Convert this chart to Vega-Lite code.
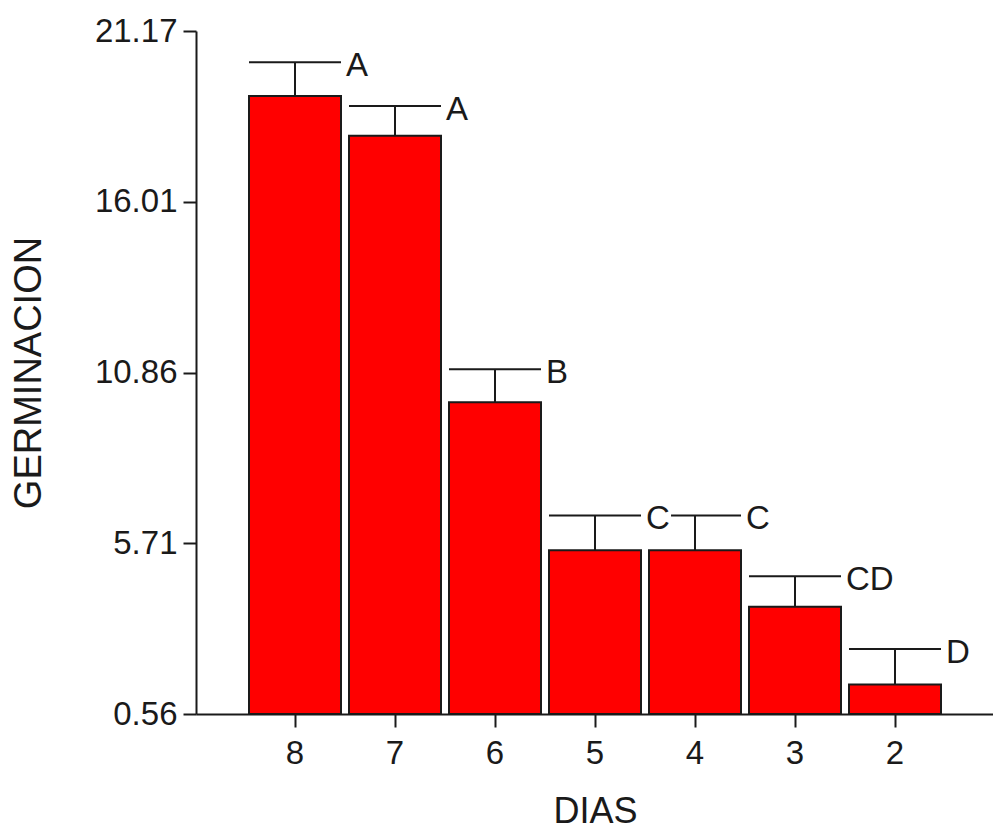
{
  "$schema": "https://vega.github.io/schema/vega-lite/v6.json",
  "width": 798,
  "height": 683,
  "autosize": {"type": "none"},
  "padding": {"left": 196, "top": 31, "right": 0, "bottom": 116},
  "background": "white",
  "config": {
    "view": {"stroke": null},
    "font": "Liberation Sans",
    "axis": {
      "domainColor": "#1a1a1a",
      "domainWidth": 2,
      "tickColor": "#1a1a1a",
      "tickWidth": 2,
      "tickSize": 13,
      "labelFont": "Liberation Sans",
      "labelFontSize": 33,
      "labelColor": "#1a1a1a",
      "titleFont": "Liberation Sans",
      "titleFontSize": 36,
      "titleFontWeight": "normal",
      "titleColor": "#1a1a1a",
      "grid": false
    }
  },
  "data": {
    "values": [
      {"dias": "8", "germ": 19.21, "err": 20.23, "letra": "A"},
      {"dias": "7", "germ": 18.01, "err": 18.91, "letra": "A"},
      {"dias": "6", "germ": 9.97, "err": 10.96, "letra": "B"},
      {"dias": "5", "germ": 5.5, "err": 6.55, "letra": "C"},
      {"dias": "4", "germ": 5.5, "err": 6.55, "letra": "C"},
      {"dias": "3", "germ": 3.8, "err": 4.72, "letra": "CD"},
      {"dias": "2", "germ": 1.45, "err": 2.52, "letra": "D"}
    ]
  },
  "encoding": {
    "x": {
      "field": "dias",
      "type": "nominal",
      "sort": ["8", "7", "6", "5", "4", "3", "2"],
      "scale": {"paddingInner": 0.08, "paddingOuter": 0.53},
      "axis": {"title": "DIAS", "labelAngle": 0, "labelPadding": 10, "titlePadding": 24}
    }
  },
  "layer": [
    {
      "mark": {"type": "bar", "color": "#ff0000", "stroke": "#1a1a1a", "strokeWidth": 2},
      "encoding": {
        "y": {
          "field": "germ",
          "type": "quantitative",
          "scale": {"domain": [0.56, 21.17], "nice": false, "zero": false},
          "axis": {
            "title": "GERMINACION",
            "titleFontSize": 38,
            "values": [0.56, 5.71, 10.86, 16.01, 21.17],
            "format": ".2f",
            "labelPadding": 6,
            "titlePadding": 46
          }
        },
        "y2": {"datum": 0.56}
      }
    },
    {
      "mark": {"type": "rule", "color": "#1a1a1a", "strokeWidth": 2},
      "encoding": {
        "y": {"field": "germ", "type": "quantitative"},
        "y2": {"field": "err"}
      }
    },
    {
      "mark": {"type": "rule", "color": "#1a1a1a", "strokeWidth": 2},
      "encoding": {
        "x": {"field": "dias", "type": "nominal", "sort": ["8", "7", "6", "5", "4", "3", "2"], "bandPosition": 0},
        "x2": {"field": "dias", "bandPosition": 1},
        "y": {"field": "err", "type": "quantitative"}
      }
    },
    {
      "mark": {"type": "point", "shape": "square", "filled": true, "color": "white", "opacity": 1, "size": 680, "xOffset": 63, "yOffset": 3, "strokeWidth": 0},
      "encoding": {
        "y": {"field": "err", "type": "quantitative"}
      }
    },
    {
      "mark": {"type": "text", "align": "left", "baseline": "middle", "dx": 51, "dy": 4, "fontSize": 33, "font": "Liberation Sans", "color": "#1a1a1a"},
      "encoding": {
        "y": {"field": "err", "type": "quantitative"},
        "text": {"field": "letra"}
      }
    }
  ]
}
